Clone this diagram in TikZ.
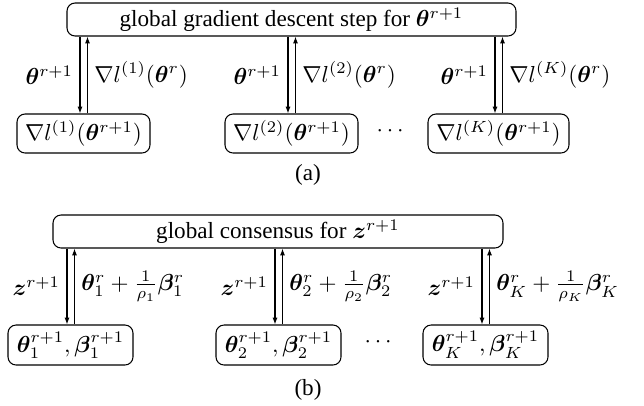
\documentclass[tikz,border=0pt]{standalone}
\usepackage{amsmath,bm}
\usepackage{fontspec}
\setmainfont{Liberation Serif}
\usetikzlibrary{arrows.meta}
\begin{document}
\begin{tikzpicture}[x=0.432pt,y=-0.432pt,
  box/.style={draw,rounded corners=3.5pt,inner sep=0pt,line width=0.45pt},
  arr/.style={-{Latex[length=3pt,width=2.2pt]},line width=0.45pt},
  lbl/.style={inner sep=2.8pt}]
\useasboundingbox (0,0) rectangle (644,405);
% (a)
\node[box,minimum width=449*0.432pt,minimum height=33*0.432pt] (ta) at (291.5,19.5) {global gradient descent step for $\bm{\theta}^{r+1}$};
\node[box,minimum width=133*0.432pt,minimum height=39*0.432pt] (a1) at (83.5,133.5) {$\nabla l^{(1)}(\bm{\theta}^{r+1})$};
\node[box,minimum width=133*0.432pt,minimum height=39*0.432pt] (a2) at (291.5,133.5) {$\nabla l^{(2)}(\bm{\theta}^{r+1})$};
\node[box,minimum width=141*0.432pt,minimum height=39*0.432pt] (aK) at (498.5,133.5) {$\nabla l^{(K)}(\bm{\theta}^{r+1})$};
\node (adots) at (392,131) {$\cdots$};
\node (acap) at (308,175) {(a)};
\foreach \n/\s in {1/1,2/2,K/K}{
  \coordinate (d\n) at ([xshift=-3.5*0.432pt]a\n.north);
  \coordinate (u\n) at ([xshift=4*0.432pt]a\n.north);
  \draw[arr] (d\n |- ta.south) -- (d\n);
  \draw[arr] (u\n) -- (u\n |- ta.south);
  \path (d\n |- ta.south) -- (d\n) node[midway,left,lbl] (la\n) {$\bm{\theta}^{r+1}$};
  \path (u\n |- ta.south) -- (u\n) node[midway,right,lbl] (ra\n) {$\nabla l^{(\s)}(\bm{\theta}^{r})$};
}
% (b)
\node[box,minimum width=450*0.432pt,minimum height=33*0.432pt] (tb) at (278,231.5) {global consensus for $\bm{z}^{r+1}$};
\node[box,minimum width=125*0.432pt,minimum height=40*0.432pt] (b1) at (70.5,345) {$\bm{\theta}_1^{r+1},\bm{\beta}_1^{r+1}$};
\node[box,minimum width=125*0.432pt,minimum height=40*0.432pt] (b2) at (278.5,345) {$\bm{\theta}_2^{r+1},\bm{\beta}_2^{r+1}$};
\node[box,minimum width=125*0.432pt,minimum height=40*0.432pt] (bK) at (485.5,345) {$\bm{\theta}_K^{r+1},\bm{\beta}_K^{r+1}$};
\node (bdots) at (380,342) {$\cdots$};
\node (bcap) at (308,390) {(b)};
\foreach \n/\s in {1/1,2/2,K/K}{
  \coordinate (e\n) at ([xshift=-3.5*0.432pt]b\n.north);
  \coordinate (v\n) at ([xshift=4*0.432pt]b\n.north);
  \draw[arr] (e\n |- tb.south) -- (e\n);
  \draw[arr] (v\n) -- (v\n |- tb.south);
  \path (e\n |- tb.south) -- (e\n) node[midway,left,lbl] (lb\n) {$\bm{z}^{r+1}$};
  \path (v\n |- tb.south) -- (v\n) node[midway,right,lbl] (rb\n) {$\bm{\theta}_{\s}^{r}+\frac{1}{\rho_{\s}}\bm{\beta}_{\s}^{r}$};
}
\end{tikzpicture}
\end{document}
